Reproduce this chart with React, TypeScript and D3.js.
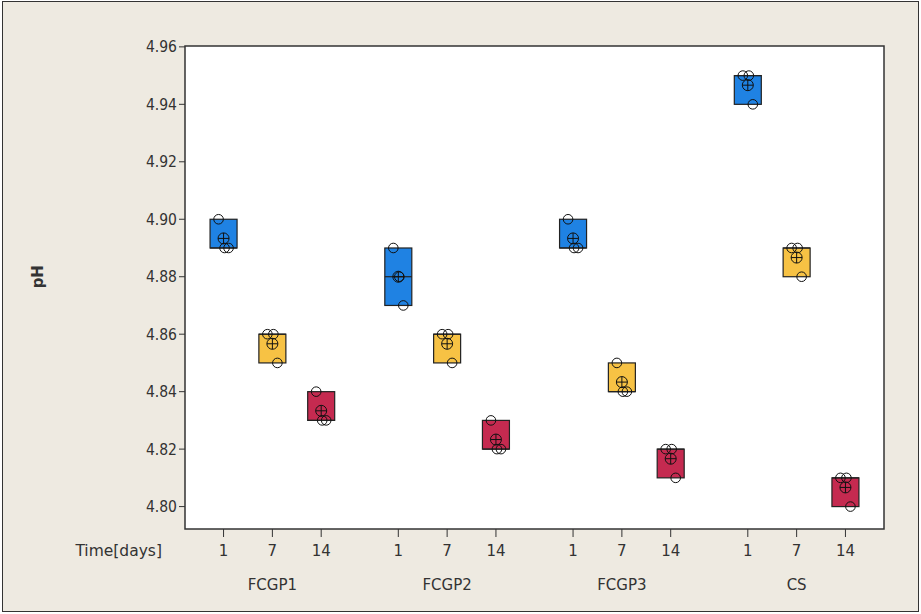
import React from "react";
import { scaleLinear, scaleBand, scalePoint, mean, ascending } from "d3";

const width = 921;
const height = 614;

const margin = { top: 46, right: 37, bottom: 85, left: 185 };
const plotLeft = margin.left;
const plotRight = width - margin.right;
const plotTop = margin.top;
const plotBottom = height - margin.bottom;

// categories
const samples = ["FCGP1", "FCGP2", "FCGP3", "CS"];
const days = ["1", "7", "14"];
const dayColors = ["#1f82e3", "#f7c244", "#c52a50"];
const yTicks = [4.8, 4.82, 4.84, 4.86, 4.88, 4.9, 4.92, 4.94, 4.96];

// pH readings, one array per sample, one sub-array per day
const fcgp1 = [[4.90, 4.89, 4.89], [4.86, 4.86, 4.85], [4.84, 4.83, 4.83]];
const fcgp2 = [[4.89, 4.88, 4.87], [4.86, 4.86, 4.85], [4.83, 4.82, 4.82]];
const fcgp3 = [[4.90, 4.89, 4.89], [4.85, 4.84, 4.84], [4.82, 4.82, 4.81]];
const cs = [[4.95, 4.95, 4.94], [4.89, 4.89, 4.88], [4.81, 4.81, 4.80]];
const readings = [fcgp1, fcgp2, fcgp3, cs];

const font = "'DejaVu Sans', sans-serif";
const tickFont = "'DejaVu Sans Condensed', 'DejaVu Sans', sans-serif";
const textColor = "#333";

// Minitab style quantile: position p*(n+1)
const quant = (sorted: number[], p: number) => {
  const n = sorted.length;
  let pos = p * (n + 1);
  if (pos < 1) pos = 1;
  if (pos > n) pos = n;
  const lo = Math.floor(pos);
  const frac = pos - lo;
  if (lo >= n) return sorted[n - 1];
  return sorted[lo - 1] + frac * (sorted[lo] - sorted[lo - 1]);
};

const jitter = [-5, 1, 5, -2, 3];

export default function App() {
  const yScale = scaleLinear().domain([4.7922, 4.9603]).range([plotBottom, plotTop]);

  const groupScale = scaleBand().domain(samples).range([plotLeft, plotRight]).paddingInner(0);
  const dayScale = scalePoint().domain(days).range([0, groupScale.bandwidth()]).padding(0.79);

  const boxW = 27;

  return (
    <svg
      width={width}
      height={height}
      style={{ position: "absolute", left: 0, top: 0, display: "block" }}
    >
      <rect x={2.5} y={1.5} width={width - 5} height={height - 4} fill="#eeeae1" stroke="#333" strokeWidth={1} />
      <rect
        x={plotLeft}
        y={plotTop}
        width={plotRight - plotLeft}
        height={plotBottom - plotTop}
        fill="#fff"
        stroke="#333"
        strokeWidth={1.5}
      />

      {/* Y axis */}
      {yTicks.map((t) => (
        <g key={t} transform={`translate(0, ${yScale(t)})`}>
          <line x1={plotLeft - 6} x2={plotLeft} stroke="#333" />
          <text
            x={plotLeft - 8}
            dy="0.35em"
            textAnchor="end"
            fontFamily={tickFont}
            fontSize={15.5}
            fill={textColor}
          >
            {t.toFixed(2)}
          </text>
        </g>
      ))}
      <text
        transform={`translate(43, ${yScale(4.88)}) rotate(-90)`}
        textAnchor="middle"
        fontFamily={font}
        fontSize={15}
        fontWeight="bold"
        fill={textColor}
      >
        pH
      </text>

      {/* X axis */}
      <text x={162} y={556} textAnchor="end" fontFamily={font} fontSize={15.5} fill={textColor}>
        Time[days]
      </text>
      {samples.map((s) => {
        const gx = groupScale(s)!;
        return (
          <g key={s}>
            {days.map((d) => (
              <g key={d} transform={`translate(${gx + dayScale(d)!}, ${plotBottom})`}>
                <line y2={8} stroke="#333" />
                <text y={27} textAnchor="middle" fontFamily={font} fontSize={15} fill={textColor}>
                  {d}
                </text>
              </g>
            ))}
            <text
              x={gx + groupScale.bandwidth() / 2}
              y={plotBottom + 61}
              textAnchor="middle"
              fontFamily={font}
              fontSize={15}
              fill={textColor}
            >
              {s}
            </text>
          </g>
        );
      })}

      {/* Marks */}
      {samples.map((s, si) => {
        const gx = groupScale(s)!;
        return days.map((d, di) => {
          const vals = readings[si][di];
          const sorted = vals.slice().sort(ascending);
          const q1 = quant(sorted, 0.25);
          const q3 = quant(sorted, 0.75);
          const med = quant(sorted, 0.5);
          const m = mean(vals)!;
          const cx = gx + dayScale(d)!;
          return (
            <g key={s + d}>
              {sorted[0] < q1 && (
                <line x1={cx} x2={cx} y1={yScale(q1)} y2={yScale(sorted[0])} stroke="#000" />
              )}
              {sorted[sorted.length - 1] > q3 && (
                <line x1={cx} x2={cx} y1={yScale(q3)} y2={yScale(sorted[sorted.length - 1])} stroke="#000" />
              )}
              <rect
                x={cx - boxW / 2}
                y={yScale(q3)}
                width={boxW}
                height={yScale(q1) - yScale(q3)}
                fill={dayColors[di]}
                stroke="#222"
                strokeWidth={1.2}
              />
              <line
                x1={cx - boxW / 2}
                x2={cx + boxW / 2}
                y1={yScale(med)}
                y2={yScale(med)}
                stroke="#222"
                strokeWidth={1.2}
              />
              {vals.map((v, i) => (
                <circle
                  key={i}
                  cx={cx + jitter[i % jitter.length]}
                  cy={yScale(v)}
                  r={4.8}
                  fill="none"
                  stroke="#111"
                  strokeWidth={1}
                />
              ))}
              <g transform={`translate(${cx}, ${yScale(m)})`} stroke="#111" strokeWidth={1}>
                <circle r={5.5} fill="none" />
                <line x1={-5.5} x2={5.5} />
                <line y1={-5.5} y2={5.5} />
              </g>
            </g>
          );
        });
      })}
    </svg>
  );
}
